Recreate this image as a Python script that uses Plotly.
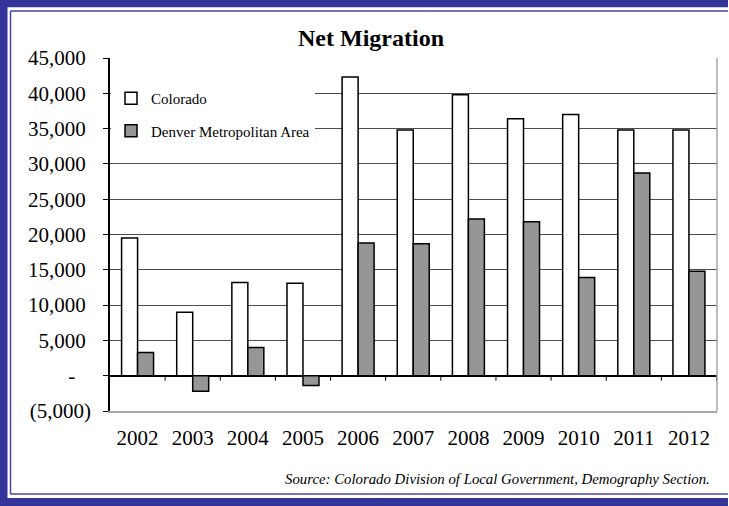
import plotly.graph_objects as go

# Net migration, Colorado vs. Denver metro area
years = ["2002", "2003", "2004", "2005", "2006", "2007", "2008", "2009", "2010", "2011", "2012"]
colorado = [19500, 9000, 13200, 13100, 42300, 34800, 39800, 36400, 37000, 34800, 34800]
denver = [3300, -2200, 4000, -1400, 18800, 18700, 22200, 21800, 13900, 28700, 14800]

y_ticks = [-5000, 0, 5000, 10000, 15000, 20000, 25000, 30000, 35000, 40000, 45000]
y_labels = ["(5,000)", "-", "5,000", "10,000", "15,000", "20,000", "25,000",
            "30,000", "35,000", "40,000", "45,000"]

NB = "\u00a0"


def fmt_label(v, s):
    # accounting-style alignment: positives leave room for a closing paren
    if v < 0:
        return s
    if v == 0:
        return s + NB * 3
    return s + NB


FONT = "Liberation Serif, Times New Roman, serif"
W, H = 729, 506
L, R, T, B = 110, 12, 58, 95
PW, PH = W - L - R, H - T - B


def px_x(p):
    return (p - L) / PW


def px_y(p):
    return (H - B - p) / PH


fig = go.Figure()
fig.add_trace(go.Bar(
    x=years, y=colorado, name="Colorado", legendgroup="co",
    marker=dict(color="white", line=dict(color="black", width=1.5)),
))
fig.add_trace(go.Bar(
    x=years, y=denver, name="Denver Metropolitan Area", legendgroup="dn",
    marker=dict(color="#969696", line=dict(color="black", width=1.5)),
))

shapes = []
# category separator ticks hanging below the zero line
for i in range(len(years)):
    shapes.append(dict(
        type="line", xref="x", yref="y", ysizemode="pixel", yanchor=0,
        x0=i + 0.5, x1=i + 0.5, y0=0, y1=-5,
        line=dict(color="black", width=1),
    ))
# right edge of the plot frame
shapes.append(dict(type="line", xref="paper", yref="paper", x0=1, x1=1, y0=0, y1=1,
                   line=dict(color="#a6a6a6", width=1.5)))


def frame_edge(x0, y0, x1, y1, color, width):
    return dict(type="line", xref="paper", yref="paper",
                x0=px_x(x0), y0=px_y(y0), x1=px_x(x1), y1=px_y(y1),
                line=dict(color=color, width=width), layer="above")


# page frame: heavy outer band and thin inner rule, open on the right
DARK, THIN = "#333399", "#4646a6"
XE = W - 1
shapes += [
    frame_edge(0, 3.5, XE, 3.5, DARK, 7.5),
    frame_edge(3.75, 0, 3.75, H, DARK, 7.5),
    frame_edge(0, 502, XE, 502, DARK, 8),
    frame_edge(10.5, 11, XE, 11, THIN, 1.5),
    frame_edge(10.5, 11, 10.5, 494, THIN, 1.5),
    frame_edge(10.5, 494, XE, 494, THIN, 1.5),
]

fig.update_layout(
    width=W, height=H,
    margin=dict(l=L, r=R, t=T, b=B),
    paper_bgcolor="white", plot_bgcolor="white",
    font=dict(family=FONT, color="black"),
    barmode="group", bargap=0.42, bargroupgap=0,
    title=dict(text="<b>Net Migration</b>", font=dict(size=24, family=FONT, color="black"),
               xref="container", x=371 / W, xanchor="center",
               yref="container", y=1 - 38 / H, yanchor="middle"),
    legend=dict(
        x=px_x(111), y=px_y(82), xanchor="left", yanchor="top",
        bgcolor="white", borderwidth=0,
        font=dict(size=15, family=FONT, color="black"),
        tracegroupgap=10, itemwidth=30,
    ),
    xaxis=dict(
        type="category", showgrid=False, zeroline=False,
        showline=True, linecolor="#a6a6a6", linewidth=1.5,
        ticks="", tickfont=dict(size=21, family=FONT, color="black"),
        ticklabelstandoff=7,
    ),
    yaxis=dict(
        range=[-5000, 45000], tickvals=y_ticks,
        ticktext=[fmt_label(v, s) for v, s in zip(y_ticks, y_labels)],
        showgrid=True, gridcolor="#4d4d4d", gridwidth=1,
        zeroline=True, zerolinecolor="black", zerolinewidth=1.5,
        showline=True, linecolor="black", linewidth=1.5,
        ticks="outside", ticklen=5, tickcolor="black", tickwidth=1,
        tickfont=dict(size=21, family=FONT, color="black"),
        ticklabelstandoff=8,
    ),
    shapes=shapes,
    annotations=[dict(
        text="<i>Source: Colorado Division of Local Government, Demography Section.</i>",
        xref="paper", yref="paper", x=px_x(712), y=px_y(479),
        xanchor="right", yanchor="middle", showarrow=False,
        font=dict(size=14.8, family=FONT, color="black"),
    )],
)

fig.write_html("out.html")
